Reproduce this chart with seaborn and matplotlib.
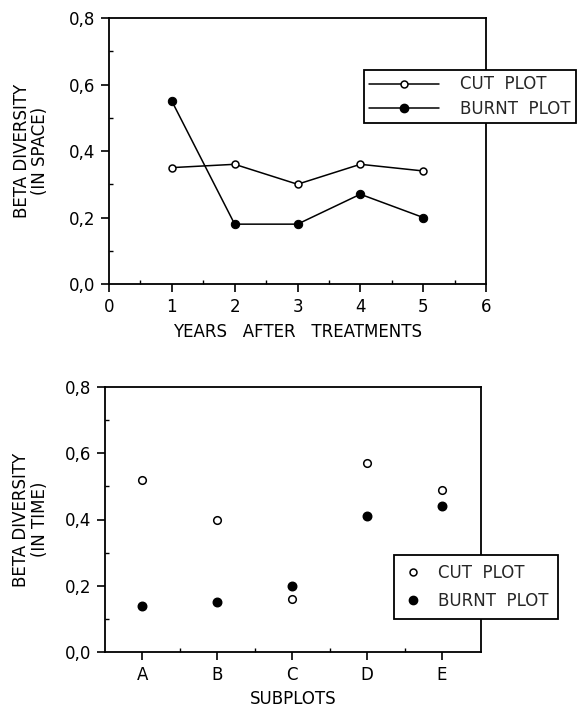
import numpy as np
import pandas as pd
import matplotlib
matplotlib.use("Agg")
import matplotlib.pyplot as plt
import seaborn as sns
from matplotlib.ticker import FixedLocator, FuncFormatter, MultipleLocator
from matplotlib.lines import Line2D

sns.set_theme(style="ticks")
plt.rcParams['font.family'] = ['DejaVu Sans']

# ---- data ----
years = [1, 2, 3, 4, 5]
cut_space = [0.35, 0.36, 0.30, 0.36, 0.34]
burnt_space = [0.55, 0.18, 0.18, 0.27, 0.20]

subplots = ["A", "B", "C", "D", "E"]
cut_time = [0.52, 0.40, 0.16, 0.57, 0.49]
burnt_time = [0.14, 0.15, 0.20, 0.41, 0.44]

x_ticks_top = [0, 1, 2, 3, 4, 5, 6]
y_ticks = [0.0, 0.2, 0.4, 0.6, 0.8]
legend_labels = ["CUT  PLOT", "BURNT  PLOT"]

df_space = pd.DataFrame({
    "year": years * 2,
    "beta": cut_space + burnt_space,
    "plot": ["cut"] * 5 + ["burnt"] * 5,
})
df_time = pd.DataFrame({
    "sub": subplots * 2,
    "beta": cut_time + burnt_time,
    "plot": ["cut"] * 5 + ["burnt"] * 5,
})

W, H = 577, 709
fig = plt.figure(figsize=(W / 100, H / 100), dpi=100)
fig.patch.set_facecolor("white")

FS = 12
LW = 1.1
comma = FuncFormatter(lambda v, p: f"{v:.1f}".replace(".", ","))

def style_axes(ax):
    for s in ax.spines.values():
        s.set_visible(True)
        s.set_color("black")
        s.set_linewidth(1.3)
    ax.set_facecolor("white")
    ax.tick_params(axis="both", which="major", direction="out", length=6,
                   width=1.2, colors="black", labelsize=FS, pad=4)
    ax.tick_params(axis="both", which="minor", direction="in", length=3,
                   width=1.0, colors="black")
    ax.set_ylim(0, 0.8)
    ax.yaxis.set_major_locator(FixedLocator(y_ticks))
    ax.yaxis.set_minor_locator(MultipleLocator(0.1))
    ax.yaxis.set_major_formatter(comma)

# ---- top panel ----
ax1 = fig.add_axes([109 / W, 1 - 284 / H, 377 / W, 266 / H])
sns.lineplot(data=df_space[df_space["plot"] == "cut"], x="year", y="beta",
             color="black", lw=LW, marker="o", markersize=5,
             markerfacecolor="white", markeredgecolor="black",
             markeredgewidth=1.1, ax=ax1, legend=False)
sns.lineplot(data=df_space[df_space["plot"] == "burnt"], x="year", y="beta",
             color="black", lw=LW, marker="o", markersize=6,
             markerfacecolor="black", markeredgecolor="black",
             ax=ax1, legend=False)
style_axes(ax1)
ax1.set_xlim(0, 6)
ax1.xaxis.set_major_locator(FixedLocator(x_ticks_top))
ax1.xaxis.set_minor_locator(MultipleLocator(0.5))
ax1.set_xlabel("YEARS   AFTER   TREATMENTS", fontsize=FS, color="black")
ax1.xaxis.set_label_coords(0.5, -0.147)
ax1.set_ylabel("BETA DIVERSITY\n(IN SPACE)", fontsize=FS, color="black",
               linespacing=1.05)
ax1.yaxis.set_label_coords(-0.158, 0.5)

h1 = [Line2D([], [], color="black", lw=LW, marker="o", markersize=5,
             markerfacecolor="white", markeredgecolor="black", markeredgewidth=1.1),
      Line2D([], [], color="black", lw=LW, marker="o", markersize=6,
             markerfacecolor="black", markeredgecolor="black")]
leg1 = fig.legend(h1, legend_labels, loc="upper left",
                  bbox_to_anchor=(364 / W, 1 - 70 / H), fontsize=FS,
                  frameon=True, fancybox=False, framealpha=1,
                  edgecolor="black", handlelength=4.2, handletextpad=1.26,
                  labelspacing=0.38, borderpad=0.32, borderaxespad=0)
leg1.get_frame().set_linewidth(1.3)

# ---- bottom panel ----
ax2 = fig.add_axes([105 / W, 1 - 652 / H, 376 / W, 265 / H])
sns.scatterplot(data=df_time[df_time["plot"] == "cut"], x="sub", y="beta",
                color="white", edgecolor="black", linewidth=1.1, s=30,
                marker="o", ax=ax2, legend=False, zorder=3)
sns.scatterplot(data=df_time[df_time["plot"] == "burnt"], x="sub", y="beta",
                color="black", edgecolor="black", linewidth=1.0, s=38,
                marker="o", ax=ax2, legend=False, zorder=3)
style_axes(ax2)
ax2.set_xlim(-0.5, 4.52)
ax2.xaxis.set_minor_locator(FixedLocator([0.5, 1.5, 2.5, 3.5]))
ax2.set_xlabel("SUBPLOTS", fontsize=FS, color="black")
ax2.xaxis.set_label_coords(0.5, -0.143)
ax2.set_ylabel("BETA DIVERSITY\n(IN TIME)", fontsize=FS, color="black",
               linespacing=1.05)
ax2.yaxis.set_label_coords(-0.15, 0.5)

h2 = [Line2D([], [], ls="none", marker="o", markersize=5,
             markerfacecolor="white", markeredgecolor="black", markeredgewidth=1.1),
      Line2D([], [], ls="none", marker="o", markersize=6,
             markerfacecolor="black", markeredgecolor="black")]
leg2 = fig.legend(h2, legend_labels, loc="upper left",
                  bbox_to_anchor=(394 / W, 1 - 555 / H), fontsize=FS,
                  frameon=True, fancybox=False, framealpha=1,
                  edgecolor="black", handlelength=1.2, handletextpad=0.9,
                  labelspacing=0.6, borderpad=0.55, borderaxespad=0)
leg2.get_frame().set_linewidth(1.3)

fig.savefig("out.png", dpi=100, facecolor="white")
